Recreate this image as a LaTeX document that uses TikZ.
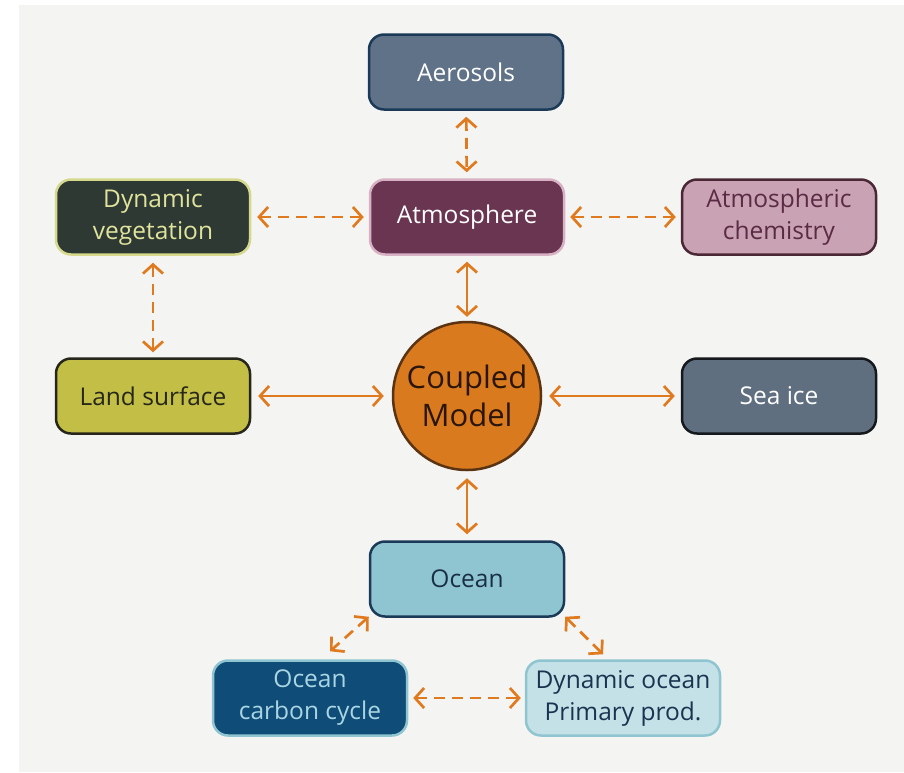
\documentclass[tikz,border=0pt]{standalone}
\usepackage{fontspec}
\setmainfont{Open Sans}
\usetikzlibrary{arrows.meta}
\definecolor{bgc}{HTML}{F4F4F2}
\definecolor{arrc}{HTML}{E07A1F}
\definecolor{aerofill}{HTML}{5F7287}
\definecolor{aerodraw}{HTML}{1B3A58}
\definecolor{atmfill}{HTML}{6A3551}
\definecolor{atmdraw}{HTML}{D8B2C4}
\definecolor{vegfill}{HTML}{2E3934}
\definecolor{vegdraw}{HTML}{D6D98C}
\definecolor{vegtext}{HTML}{E0E39C}
\definecolor{chemfill}{HTML}{C9A2B3}
\definecolor{chemdraw}{HTML}{4A2735}
\definecolor{chemtext}{HTML}{5A2B44}
\definecolor{landfill}{HTML}{C3BF46}
\definecolor{landdraw}{HTML}{26261A}
\definecolor{icefill}{HTML}{5F6F80}
\definecolor{icedraw}{HTML}{15181C}
\definecolor{cplfill}{HTML}{D97A1F}
\definecolor{cpldraw}{HTML}{5A3312}
\definecolor{cpltext}{HTML}{2A1508}
\definecolor{ocfill}{HTML}{8FC5D0}
\definecolor{ocdraw}{HTML}{1B3A58}
\definecolor{octext}{HTML}{1A2F45}
\definecolor{occfill}{HTML}{0F4C78}
\definecolor{occdraw}{HTML}{8FC5D0}
\definecolor{occtext}{HTML}{AAD6E3}
\definecolor{dopfill}{HTML}{C4E1E7}
\definecolor{dopdraw}{HTML}{8FC5D0}
\definecolor{doptext}{HTML}{1B3350}
\tikzset{
  box/.style={rectangle, rounded corners=15pt, minimum width=194pt, minimum height=75pt,
    line width=2.5pt, align=center, inner sep=0pt,
    font=\fontsize{24.5}{32}\selectfont},
  conn/.style={draw=arrc, line width=2.7pt,
    {Straight Barb[length=9pt,width=20pt]}-{Straight Barb[length=9pt,width=20pt]}},
  dconn/.style={conn, dash pattern=on 11pt off 7pt},
}
\begin{document}
\begin{tikzpicture}[x=1pt,y=-1pt]
\useasboundingbox (0,0) rectangle (904,772);
\fill[white] (0,0) rectangle (904,772);
\fill[bgc] (19,5) rectangle (904,772);

\node[box, fill=aerofill, draw=aerodraw, text=white] (aero) at (466,72) {Aerosols};
\node[box, fill=atmfill, draw=atmdraw, text=white] (atm) at (467,217) {Atmosphere};
\node[box, fill=vegfill, draw=vegdraw, text=vegtext] (veg) at (153,217) {Dynamic\\vegetation};
\node[box, fill=chemfill, draw=chemdraw, text=chemtext] (chem) at (779,217) {Atmospheric\\chemistry};
\node[box, fill=landfill, draw=landdraw, text=landdraw] (land) at (153,396) {Land surface};
\node[box, fill=icefill, draw=icedraw, text=white] (ice) at (779,396) {Sea ice};
\node[circle, minimum size=148pt, inner sep=0pt, line width=2.5pt, fill=cplfill, draw=cpldraw,
  text=cpltext, align=center, font=\fontsize{31}{38}\selectfont] (cpl) at (467,396) {Coupled\\Model};
\node[box, fill=ocfill, draw=ocdraw, text=octext] (ocean) at (467,579) {Ocean};
\node[box, fill=occfill, draw=occdraw, text=occtext] (occ) at (310,698) {Ocean\\carbon cycle};
\node[box, fill=dopfill, draw=dopdraw, text=doptext] (dop) at (623,698) {Dynamic ocean\\Primary prod.};

\draw[dconn, shorten <=6pt, shorten >=6pt] (aero) -- (atm);
\draw[dconn, shorten <=6pt, shorten >=5pt] (veg) -- (atm);
\draw[dconn, shorten <=5pt, shorten >=5pt] (atm) -- (chem);
\draw[conn, shorten <=6pt, shorten >=4pt] (atm) -- (cpl);
\draw[dconn, shorten <=7pt, shorten >=5pt] (veg) -- (land);
\draw[conn, shorten <=7pt, shorten >=8pt] (land) -- (cpl);
\draw[conn, shorten <=7pt, shorten >=6pt] (cpl) -- (ice);
\draw[conn, shorten <=7pt, shorten >=6pt] (cpl) -- (ocean);
\draw[dconn] ([shift={(0,-1)}]ocean.south west) -- ([shift={(20,-8)}]occ.north);
\draw[dconn] ([shift={(0,-1)}]ocean.south east) -- ([shift={(-20,-5)}]dop.north);
\draw[dconn, shorten <=5pt, shorten >=4pt] (occ) -- (dop);
\end{tikzpicture}
\end{document}
